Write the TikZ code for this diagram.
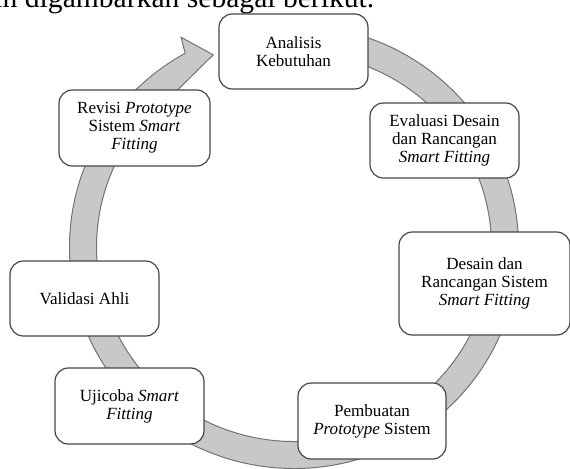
\documentclass[tikz,border=0pt]{standalone}
\usepackage{fontspec}
\setmainfont{Liberation Serif}
\usetikzlibrary{calc}

\tikzset{every picture/.style={line width=0.75pt}}
\tikzset{
  tahap/.style={draw={rgb, 255:red, 70; green, 70; blue, 70 }, fill=white, line width=0.9pt,
    rounded corners=10pt, align=center, inner sep=2pt,
    font=\fontsize{12.8}{13.5}\selectfont},
  cincin/.style={draw={rgb, 255:red, 115; green, 115; blue, 115 }, fill={rgb, 255:red, 200; green, 200; blue, 200 }, line width=0.75pt, line join=miter}
}

\begin{document}
\begin{tikzpicture}[x=0.75pt,y=0.75pt,yscale=-1,xscale=1]
\useasboundingbox (0,0) rectangle (570,468);

% Text Node
\node [anchor=base west, inner sep=0pt, font=\fontsize{22.2}{26}\selectfont] (teks) at (-6,7) {in digambarkan sebagai berikut.};

%Circular Arrow
\coordinate (pusat) at (294,247);
\path [cincin] ($(pusat)+(-85:224.5 and 221.5)$) arc [start angle=-85, end angle=241, x radius=224.5, y radius=221.5]
  -- ($(pusat)+(242:240.5 and 237.5)$) -- ($(pusat)+(247.5:211 and 208)$)
  -- ($(pusat)+(234:197.5 and 194.5)$) arc [start angle=234, end angle=-85, x radius=197.5, y radius=194.5] -- cycle;

% Text Node
\node [tahap, minimum width=111.75pt, minimum height=56.25pt] (analisis) at (293.5,51.5) {Analisis\\Kebutuhan};
% Text Node
\node [tahap, minimum width=111.75pt, minimum height=56.25pt] (evaluasi) at (444.5,140.5) {Evaluasi Desain\\dan Rancangan\\\textit{Smart Fitting}};
% Text Node
\node [tahap, minimum width=128.25pt, minimum height=77.25pt] (desain) at (484.5,283.5) {Desain dan\\Rancangan Sistem\\\textit{Smart Fitting}};
% Text Node
\node [tahap, minimum width=111pt, minimum height=57pt] (pembuatan) at (372,421) {Pembuatan\\\textit{Prototype} Sistem};
% Text Node
\node [tahap, minimum width=111.75pt, minimum height=57pt] (ujicoba) at (129.5,406) {Ujicoba \textit{Smart}\\\textit{Fitting}};
% Text Node
\node [tahap, minimum width=111.75pt, minimum height=56.25pt] (validasi) at (84.5,298.5) {Validasi Ahli};
% Text Node
\node [tahap, minimum width=113.25pt, minimum height=57pt] (revisi) at (134.5,128) {Revisi \textit{Prototype}\\Sistem \textit{Smart}\\\textit{Fitting}};

\end{tikzpicture}
\end{document}
